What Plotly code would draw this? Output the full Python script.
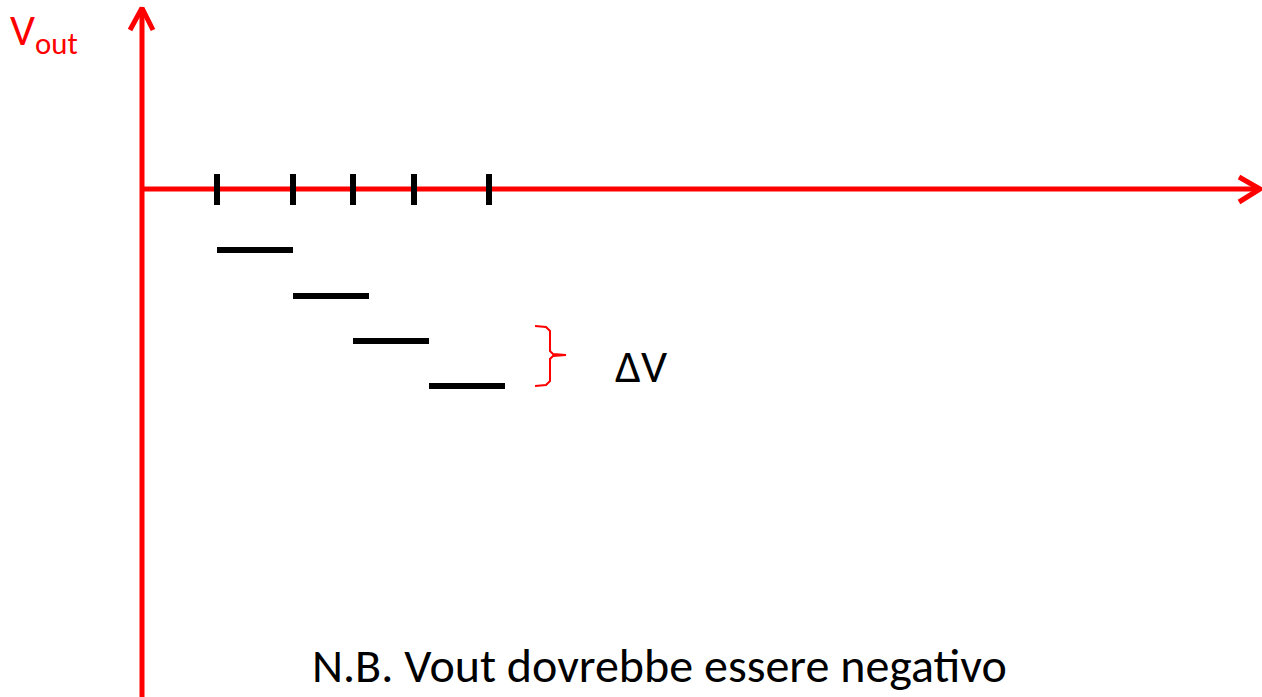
import plotly.graph_objects as go

# Diagram data (coordinates with origin at the axes intersection)
tick_x = [75, 151, 211, 272, 347]
step_start = [75, 151, 211, 287]
step_end = [151, 227, 287, 363]
step_level = [-61, -107, -152, -197]

x_axis_end = 1118
y_axis_top = 181
y_axis_bottom = -520

RED = "#FF0000"
FONT = "Calibri, Carlito, Lato, sans-serif"

fig = go.Figure()

# axes
fig.add_trace(go.Scatter(x=[0, 0], y=[y_axis_bottom, y_axis_top], mode="lines",
                         line=dict(color=RED, width=5), hoverinfo="skip"))
fig.add_trace(go.Scatter(x=[0, x_axis_end], y=[0, 0], mode="lines",
                         line=dict(color=RED, width=5), hoverinfo="skip"))
# arrow heads (chevrons)
fig.add_trace(go.Scatter(x=[x_axis_end - 21, x_axis_end, x_axis_end - 21],
                         y=[12, 0, -13], mode="lines",
                         line=dict(color=RED, width=5), hoverinfo="skip"))
fig.add_trace(go.Scatter(x=[-12, 0, 11], y=[y_axis_top - 22, y_axis_top, y_axis_top - 22],
                         mode="lines", line=dict(color=RED, width=5), hoverinfo="skip"))

# tick marks
tx, ty = [], []
for t in tick_x:
    tx += [t, t, None]
    ty += [15, -16, None]
fig.add_trace(go.Scatter(x=tx, y=ty, mode="lines", line=dict(color="black", width=6),
                         hoverinfo="skip"))

# steps
sx, sy = [], []
for a, b, lv in zip(step_start, step_end, step_level):
    sx += [a, b, None]
    sy += [lv, lv, None]
fig.add_trace(go.Scatter(x=sx, y=sy, mode="lines", line=dict(color="black", width=6),
                         hoverinfo="skip"))

# brace
bx = [393, 404, 408, 408, 411, 424, 411, 408, 408, 404, 393]
by = [-137, -138, -142, -162, -165, -166, -167, -170, -192, -196, -197]
fig.add_trace(go.Scatter(x=bx, y=by, mode="lines", line=dict(color=RED, width=2),
                         hoverinfo="skip"))

fig.add_annotation(x=499, y=-177, text="ΔV", showarrow=False, xanchor="center",
                   yanchor="middle", font=dict(family=FONT, size=46, color="black"))
fig.add_annotation(x=-134, y=157, text="V<sub>out</sub>", showarrow=False, xanchor="left",
                   yanchor="middle", font=dict(family=FONT, size=44, color=RED))
fig.add_annotation(x=517, y=-476, text="N.B. Vout dovrebbe essere negativo", showarrow=False,
                   xanchor="center", yanchor="middle",
                   font=dict(family=FONT, size=48, color="black"))

fig.update_layout(
    width=1262, height=697, margin=dict(l=0, r=0, t=0, b=0),
    paper_bgcolor="white", plot_bgcolor="white", showlegend=False,
    xaxis=dict(range=[-142, 1120], visible=False, fixedrange=True),
    yaxis=dict(range=[-508, 189], visible=False, fixedrange=True),
)

fig.write_html("out.html", config={"displayModeBar": False},
               post_script="document.body.style.margin='0';document.body.style.padding='0';"
                           "document.body.style.overflow='hidden';")
